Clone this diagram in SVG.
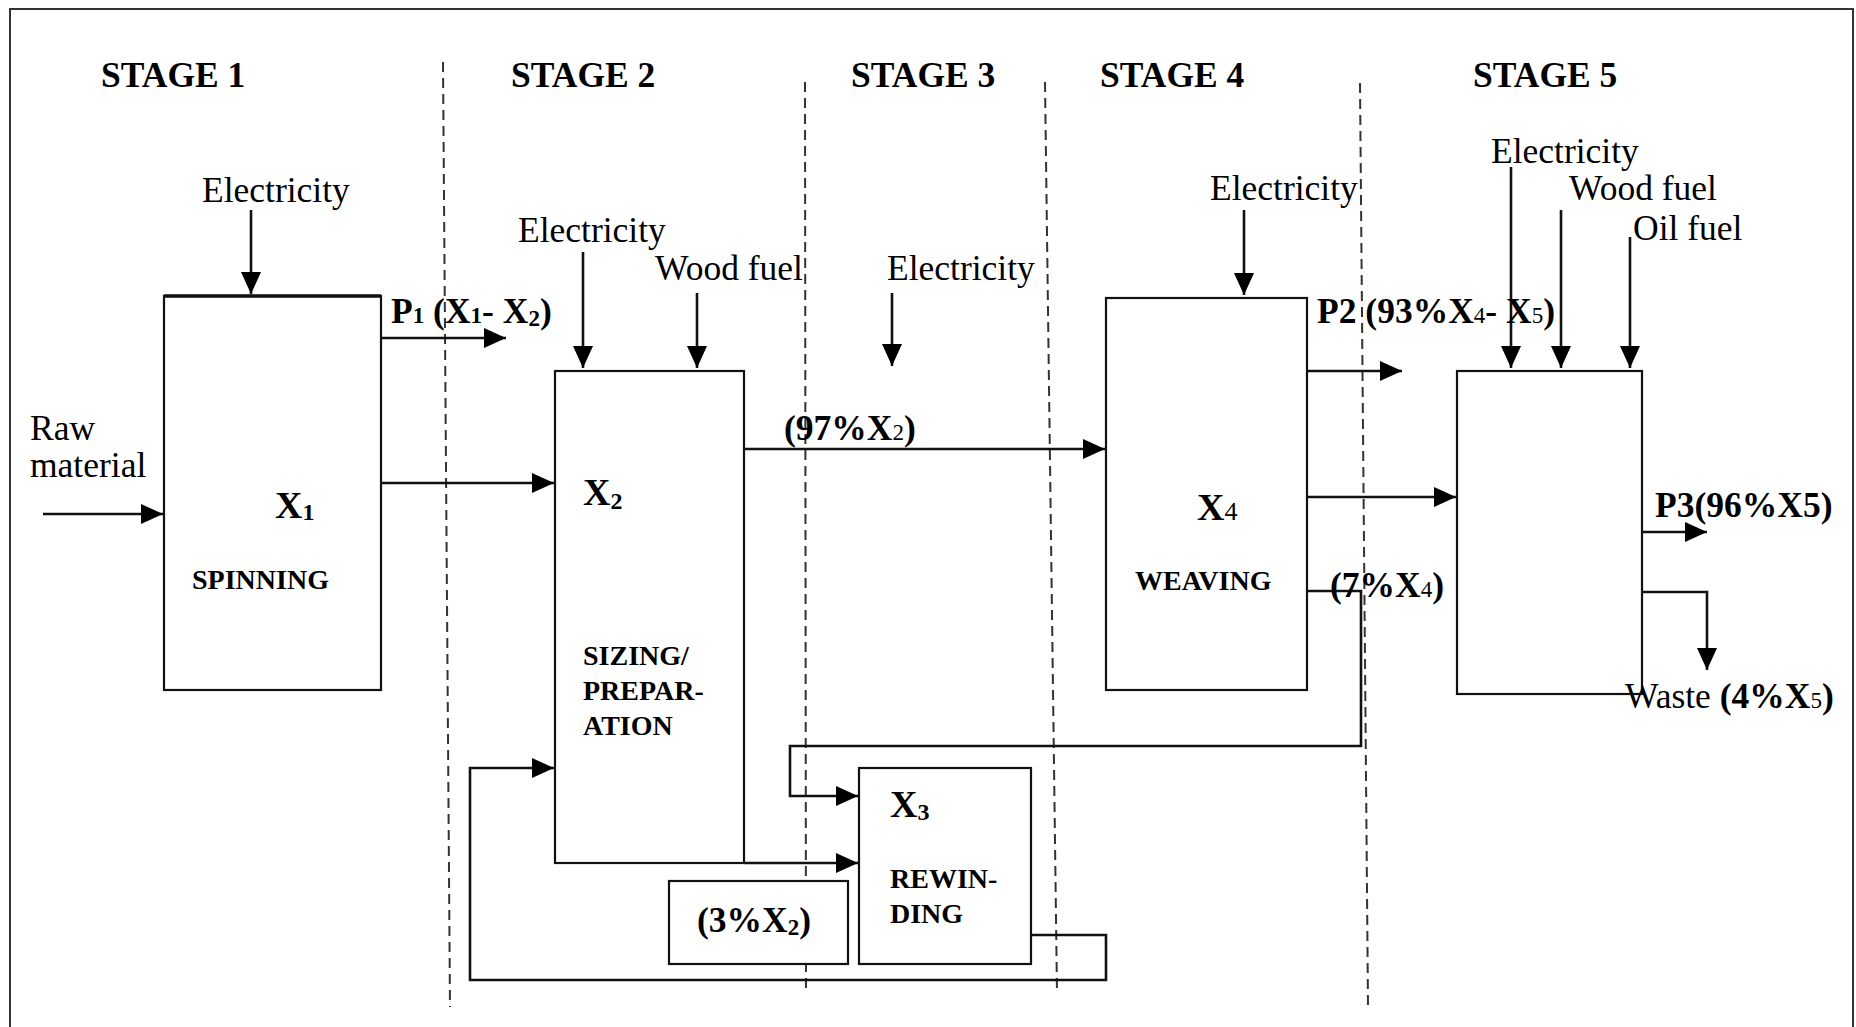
<svg xmlns="http://www.w3.org/2000/svg" width="1856" height="1027" viewBox="0 0 1856 1027">
<defs>
<marker id="ah" markerUnits="userSpaceOnUse" markerWidth="22" markerHeight="20" refX="22" refY="10" orient="auto">
<path d="M0,0 L22,10 L0,20 z" fill="#000"/>
</marker>
<style>
.t{font-family:"Liberation Serif","Times New Roman",serif;font-size:35.5px;fill:#000}
.b{font-family:"Liberation Serif","Times New Roman",serif;font-size:35.5px;font-weight:bold;fill:#000}
.s{font-family:"Liberation Serif","Times New Roman",serif;font-size:28px;font-weight:bold;fill:#000}
.x{font-family:"Liberation Serif","Times New Roman",serif;font-size:38px;font-weight:bold;fill:#000}
.box{fill:#fff;stroke:#111;stroke-width:2.2}
.ar{fill:none;stroke:#111;stroke-width:2.6;marker-end:url(#ah)}
.dash{fill:none;stroke:#333;stroke-width:2;stroke-dasharray:10 6}
</style>
</defs>
<rect x="0" y="0" width="1856" height="1027" fill="#fff"/>
<rect x="10" y="9" width="1843" height="1040" fill="none" stroke="#333" stroke-width="2"/>

<g id="stages">
<text class="b" x="101" y="87">STAGE 1</text>
<text class="b" x="511" y="87">STAGE 2</text>
<text class="b" x="851" y="87">STAGE 3</text>
<text class="b" x="1100" y="87">STAGE 4</text>
<text class="b" x="1473" y="87">STAGE 5</text>
</g>

<g id="dividers">
<line class="dash" x1="443" y1="62" x2="450" y2="1007"/>
<line class="dash" x1="805" y1="82" x2="806" y2="993"/>
<line class="dash" x1="1045" y1="82" x2="1057" y2="993"/>
<line class="dash" x1="1360" y1="83" x2="1368" y2="1005"/>
</g>

<g id="node-x1">
<rect class="box" x="164" y="296" width="217" height="394"/>
<line x1="164" y1="296" x2="381" y2="296" stroke="#111" stroke-width="3.5"/>
<text class="x" x="275" y="518">X<tspan font-size="24" dy="2">1</tspan></text>
<text class="s" x="192" y="589">SPINNING</text>
</g>

<g id="node-x2">
<rect class="box" x="555" y="371" width="189" height="492"/>
<text class="x" x="583" y="505">X<tspan font-size="24" dy="4">2</tspan></text>
<text class="s" x="583" y="665">SIZING/</text>
<text class="s" x="583" y="700">PREPAR-</text>
<text class="s" x="583" y="735">ATION</text>
</g>

<g id="node-x3">
<rect class="box" x="859" y="768" width="172" height="196"/>
<text class="x" x="890" y="817">X<tspan font-size="24" dy="3">3</tspan></text>
<text class="s" x="890" y="888">REWIN-</text>
<text class="s" x="890" y="923">DING</text>
</g>

<g id="node-3pct">
<rect class="box" x="669" y="881" width="179" height="83"/>
<text class="b" x="697" y="932">(3%X<tspan font-size="23" dy="3">2</tspan><tspan dy="-3">)</tspan></text>
</g>

<g id="node-x4">
<rect class="box" x="1106" y="298" width="201" height="392"/>
<text class="x" x="1197" y="520">X<tspan font-size="26" font-weight="normal">4</tspan></text>
<text class="s" x="1135" y="590">WEAVING</text>
</g>

<g id="node-x5">
<rect class="box" x="1457" y="371" width="185" height="323"/>
</g>

<g id="inputs">
<text class="t" x="202" y="202">Electricity</text>
<text class="t" x="518" y="242">Electricity</text>
<text class="t" x="655" y="280">Wood fuel</text>
<text class="t" x="887" y="280">Electricity</text>
<text class="t" x="1210" y="200">Electricity</text>
<text class="t" x="1491" y="163">Electricity</text>
<text class="t" x="1569" y="200">Wood fuel</text>
<text class="t" x="1633" y="240">Oil fuel</text>
<text class="t" x="30" y="440">Raw</text>
<text class="t" x="30" y="477">material</text>
</g>

<g id="connectors">
<line class="ar" x1="251" y1="210" x2="251" y2="294"/>
<line class="ar" x1="583" y1="252" x2="583" y2="368"/>
<line class="ar" x1="697" y1="293" x2="697" y2="368"/>
<line class="ar" x1="892" y1="293" x2="892" y2="366"/>
<line class="ar" x1="1244" y1="210" x2="1244" y2="295"/>
<line class="ar" x1="1511" y1="167" x2="1511" y2="368"/>
<line class="ar" x1="1561" y1="210" x2="1561" y2="368"/>
<line class="ar" x1="1630" y1="237" x2="1630" y2="368"/>
<line class="ar" x1="43" y1="514" x2="163" y2="514"/>
<line class="ar" x1="381" y1="338" x2="506" y2="338"/>
<line class="ar" x1="381" y1="483" x2="554" y2="483"/>
<line class="ar" x1="744" y1="449" x2="1105" y2="449"/>
<line class="ar" x1="1307" y1="371" x2="1402" y2="371"/>
<line class="ar" x1="1307" y1="497" x2="1456" y2="497"/>
<line class="ar" x1="1642" y1="532" x2="1707" y2="532"/>
<path class="ar" d="M1642,592 H1707 V670"/>
<path class="ar" d="M1307,591 H1361 V746 H790 V796 H858"/>
<line class="ar" x1="744" y1="863" x2="858" y2="863"/>
<path class="ar" d="M1031,935 H1106 V980 H470 V768 H554"/>
</g>

<g id="labels">
<text class="b" x="391" y="323">P<tspan font-size="23">1</tspan> (X<tspan font-size="23">1</tspan>- X<tspan font-size="23" dy="3">2</tspan><tspan dy="-3">)</tspan></text>
<text class="b" x="784" y="440">(97%X<tspan font-size="23" font-weight="normal">2</tspan>)</text>
<text class="b" x="1317" y="323">P2 (93%X<tspan font-size="23" font-weight="normal">4</tspan>- X<tspan font-size="23" font-weight="normal">5</tspan>)</text>
<text class="b" x="1655" y="517">P3(96%X5)</text>
<text class="b" x="1330" y="597">(7%X<tspan font-size="23" font-weight="normal">4</tspan>)</text>
<text class="t" x="1625" y="708">Waste <tspan font-weight="bold">(4%X<tspan font-size="23" font-weight="normal">5</tspan>)</tspan></text>
</g>
</svg>
